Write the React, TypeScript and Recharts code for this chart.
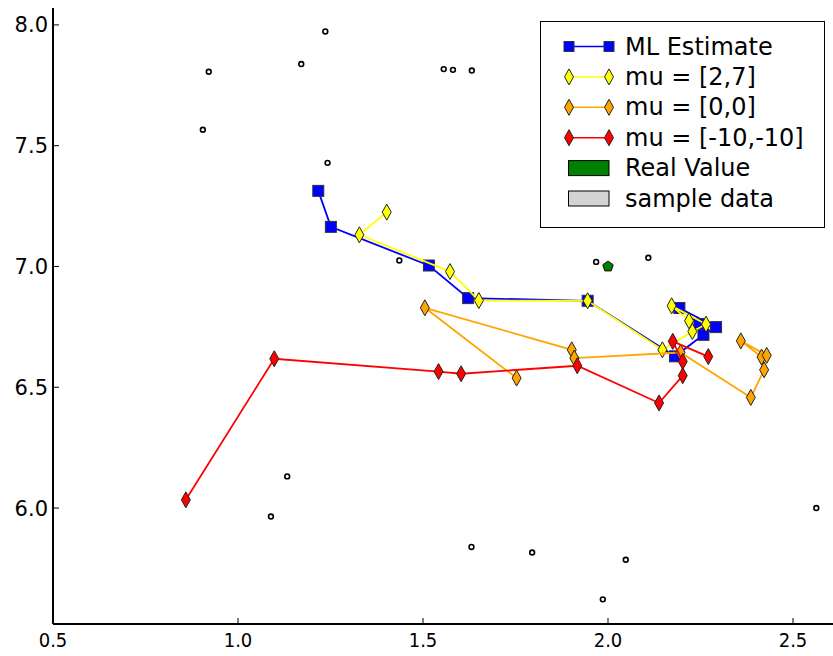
import { Legend, Scatter, ScatterChart, XAxis, YAxis } from 'recharts';

// values
const xTicks = [0.5, 1.0, 1.5, 2.0, 2.5];
const yTicks = [6.0, 6.5, 7.0, 7.5, 8.0];

const mlEstimate = [
  [1.217, 7.313], [1.251, 7.164], [1.516, 7.004], [1.622, 6.869], [1.945, 6.858],
  [2.181, 6.628], [2.258, 6.717], [2.292, 6.749], [2.193, 6.828], [2.247, 6.762],
];
const muYellow = [
  [1.402, 7.225], [1.328, 7.131], [1.573, 6.979], [1.651, 6.859], [1.945, 6.858],
  [2.147, 6.655], [2.228, 6.731], [2.265, 6.761], [2.172, 6.837], [2.219, 6.775],
];
const muOrange = [
  [1.753, 6.538], [1.505, 6.829], [1.902, 6.655], [1.909, 6.621], [2.196, 6.644],
  [2.386, 6.458], [2.422, 6.572], [2.415, 6.625], [2.359, 6.692], [2.429, 6.632],
];
const muRed = [
  [0.859, 6.034], [1.098, 6.618], [1.542, 6.565], [1.603, 6.556], [1.917, 6.589],
  [2.138, 6.435], [2.202, 6.548], [2.202, 6.607], [2.175, 6.69], [2.271, 6.627],
];
const realValue = [[2.0, 7.0]];
const sampleData = [
  [0.921, 7.806], [0.905, 7.566], [1.171, 7.838], [1.236, 7.973], [1.242, 7.429],
  [1.556, 7.817], [1.581, 7.814], [1.632, 7.811], [1.436, 7.025], [1.968, 7.019],
  [2.109, 7.036], [1.133, 6.131], [1.089, 5.965], [1.631, 5.839], [1.795, 5.816],
  [2.048, 5.786], [1.986, 5.622], [2.563, 6.0],
];

const toPts = (arr: number[][]) => arr.map(([x, y]) => ({ x, y }));

const FONT = "'DejaVu Sans', sans-serif";

function squareShape(color: string) {
  return (p: any) => (
    <rect x={p.cx - 5.5} y={p.cy - 5.5} width={11} height={11} fill={color} stroke="#333" strokeWidth={1} />
  );
}

function diamondPath(cx: number, cy: number) {
  return `M${cx},${cy - 8} L${cx + 4.5},${cy} L${cx},${cy + 8} L${cx - 4.5},${cy} Z`;
}

function diamondShape(color: string) {
  return (p: any) => <path d={diamondPath(p.cx, p.cy)} fill={color} stroke="#222" strokeWidth={1} />;
}

function pentagonShape(p: any) {
  const r = 5.5;
  const pts = [0, 1, 2, 3, 4]
    .map((k) => {
      const a = ((-90 + k * 72) * Math.PI) / 180;
      return `${p.cx + r * Math.cos(a)},${p.cy + r * Math.sin(a)}`;
    })
    .join(' ');
  return <polygon points={pts} fill="#008000" stroke="#111" strokeWidth={1} />;
}

function circleShape(p: any) {
  return <circle cx={p.cx} cy={p.cy} r={2.4} fill="#fff" stroke="#000" strokeWidth={1.6} />;
}

const lineRows = [
  { label: 'ML Estimate', color: '#0000ff', kind: 'square' },
  { label: 'mu = [2,7]', color: '#ffff00', kind: 'diamond' },
  { label: 'mu = [0,0]', color: '#ffa500', kind: 'diamond' },
  { label: 'mu = [-10,-10]', color: '#ff0000', kind: 'diamond' },
];
const patchRows = [
  { label: 'Real Value', color: '#008000' },
  { label: 'sample data', color: '#d3d3d3' },
];

function LegendBox() {
  const rowY = (i: number) => 25.5 + i * 30.4;
  return (
    <div style={{ width: 285, height: 207, border: '1.5px solid #000', background: '#fff', boxSizing: 'border-box' }}>
      <svg width={285} height={207} style={{ position: 'absolute', left: 0, top: 0 }}>
        {lineRows.map((r, i) => {
          const y = rowY(i);
          return (
            <g key={r.label}>
              <line x1={29} x2={69} y1={y} y2={y} stroke={r.color} strokeWidth={1.5} />
              {[29, 69].map((x) =>
                r.kind === 'square' ? (
                  <rect key={x} x={x - 5} y={y - 5} width={10} height={10} fill={r.color} stroke="#333" strokeWidth={1} />
                ) : (
                  <path key={x} d={diamondPath(x, y)} fill={r.color} stroke="#222" strokeWidth={1} />
                ),
              )}
              <text x={85} y={y} dominantBaseline="central" fontSize={24} fontFamily={FONT} fill="#000">
                {r.label}
              </text>
            </g>
          );
        })}
        {patchRows.map((r, i) => {
          const y = rowY(i + 4);
          return (
            <g key={r.label}>
              <rect x={28.5} y={y - 7.5} width={40.5} height={15} fill={r.color} stroke="#000" strokeWidth={1} />
              <text x={85} y={y} dominantBaseline="central" fontSize={24} fontFamily={FONT} fill="#000">
                {r.label}
              </text>
            </g>
          );
        })}
      </svg>
    </div>
  );
}

export default function App() {
  const xDomain = [0.5, 2.7];
  const yDomain = [5.52, 8.07];
  return (
    <div style={{ position: 'absolute', left: 0, top: 0, width: 833, height: 656, overflow: 'hidden', background: '#fff' }}>
      <ScatterChart width={867} height={656} margin={{ top: 8, right: 0, bottom: 2, left: 0 }}>
        <XAxis
          type="number"
          dataKey="x"
          domain={xDomain}
          ticks={xTicks}
          allowDataOverflow
          height={30}
          tickSize={-6}
          tickMargin={15}
          tickFormatter={(v: number) => v.toFixed(1)}
          axisLine={{ stroke: '#000', strokeWidth: 2 }}
          tickLine={{ stroke: '#000', strokeWidth: 1 }}
          tick={{ fill: '#000', fontSize: 20, fontFamily: FONT, fontStretch: 'condensed' } as any}
        />
        <XAxis
          xAxisId="top"
          orientation="top"
          type="number"
          domain={xDomain}
          ticks={xTicks}
          allowDataOverflow
          height={0}
          tickSize={-6}
          tick={false}
          axisLine={{ stroke: '#000', strokeWidth: 2 }}
          tickLine={{ stroke: '#000', strokeWidth: 1 }}
        />
        <YAxis
          type="number"
          dataKey="y"
          domain={yDomain}
          ticks={yTicks}
          allowDataOverflow
          width={53}
          tickSize={-6}
          tickMargin={11}
          tickFormatter={(v: number) => v.toFixed(1)}
          axisLine={{ stroke: '#000', strokeWidth: 2 }}
          tickLine={{ stroke: '#000', strokeWidth: 1 }}
          tick={{ fill: '#000', fontSize: 21, fontFamily: FONT }}
        />
        <Legend
          layout="vertical"
          align="center"
          verticalAlign="middle"
          wrapperStyle={{ left: 540, top: 21, width: 285, height: 207 }}
          content={() => <LegendBox />}
        />
        <Scatter
          name="ML Estimate"
          data={toPts(mlEstimate)}
          line={{ stroke: '#0000ff', strokeWidth: 1.8 }}
          lineJointType="linear"
          shape={squareShape('#0000ff')}
          isAnimationActive={false}
        />
        <Scatter
          name="mu = [2,7]"
          data={toPts(muYellow)}
          line={{ stroke: '#ffff00', strokeWidth: 1.8 }}
          lineJointType="linear"
          shape={diamondShape('#ffff00')}
          isAnimationActive={false}
        />
        <Scatter
          name="mu = [0,0]"
          data={toPts(muOrange)}
          line={{ stroke: '#ffa500', strokeWidth: 1.8 }}
          lineJointType="linear"
          shape={diamondShape('#ffa500')}
          isAnimationActive={false}
        />
        <Scatter
          name="mu = [-10,-10]"
          data={toPts(muRed)}
          line={{ stroke: '#ff0000', strokeWidth: 1.8 }}
          lineJointType="linear"
          shape={diamondShape('#ff0000')}
          isAnimationActive={false}
        />
        <Scatter name="Real Value" data={toPts(realValue)} shape={pentagonShape} isAnimationActive={false} />
        <Scatter name="sample data" data={toPts(sampleData)} shape={circleShape} isAnimationActive={false} />
      </ScatterChart>
    </div>
  );
}
